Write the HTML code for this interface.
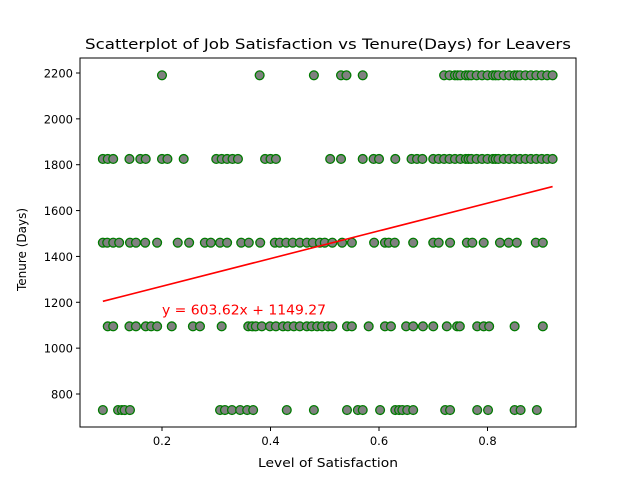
<!DOCTYPE html>
<html><head><meta charset="utf-8"><style>
body{margin:0;background:#fff;}
svg{display:block;font-family:"DejaVu Sans","Liberation Sans",sans-serif;}
</style></head><body>
<svg id="chart" width="640" height="480" viewBox="0 0 640 480"></svg>
<script>
const tenureLevels = [730, 1095, 1460, 1825, 2190];
const sat2190 = [0.20,0.38,0.48,0.53,0.54,0.57,0.72,0.73,0.74,0.745,0.75,0.76,0.765,0.77,0.78,0.79,0.80,0.81,0.815,0.82,0.83,0.84,0.85,0.855,0.86,0.87,0.88,0.89,0.90,0.91,0.92];
const sat1825 = [0.091,0.10,0.11,0.14,0.16,0.17,0.20,0.21,0.24,0.30,0.31,0.32,0.33,0.34,0.39,0.40,0.41,0.51,0.53,0.57,0.59,0.60,0.63,0.66,0.67,0.68,0.70,0.71,0.72,0.73,0.74,0.75,0.76,0.765,0.77,0.78,0.79,0.80,0.81,0.815,0.82,0.83,0.84,0.85,0.86,0.87,0.88,0.89,0.90,0.91,0.92];
const sat1460 = [0.091,0.099,0.11,0.121,0.141,0.152,0.169,0.191,0.229,0.25,0.279,0.29,0.307,0.32,0.346,0.36,0.381,0.408,0.417,0.429,0.441,0.454,0.467,0.478,0.491,0.50,0.514,0.532,0.55,0.591,0.611,0.618,0.629,0.663,0.70,0.71,0.731,0.762,0.772,0.793,0.823,0.839,0.854,0.889,0.902];
const sat1095 = [0.10,0.11,0.14,0.152,0.17,0.18,0.191,0.218,0.257,0.27,0.31,0.359,0.366,0.373,0.384,0.399,0.41,0.423,0.432,0.443,0.454,0.467,0.476,0.486,0.495,0.506,0.514,0.541,0.55,0.581,0.611,0.622,0.65,0.663,0.681,0.70,0.725,0.744,0.749,0.781,0.793,0.803,0.85,0.902];
const sat730 = [0.091,0.119,0.126,0.131,0.141,0.307,0.316,0.329,0.344,0.357,0.368,0.43,0.48,0.541,0.561,0.57,0.602,0.63,0.637,0.643,0.652,0.663,0.722,0.731,0.781,0.801,0.85,0.861,0.891];
const xTicks = [0.2,0.4,0.6,0.8];
const yTicks = [800,1000,1200,1400,1600,1800,2000,2200];
const slope = 603.62, intercept = 1149.27, fitX = [0.091, 0.92];

const NS="http://www.w3.org/2000/svg";
const svg=document.getElementById('chart');
const L=80,R=576,T=58,B=427;
const xS=v=>53.5+v*542.5;
const yS=v=>394-(v-800)*0.22929;
function mk(tag,attrs,parent){const e=document.createElementNS(NS,tag);for(const k in attrs)e.setAttribute(k,attrs[k]);(parent||svg).appendChild(e);return e;}

const pts=mk('g',{});


const rows=[[730,sat730],[1095,sat1095],[1460,sat1460],[1825,sat1825],[2190,sat2190]];
rows.forEach(([t,arr])=>{arr.forEach(s=>{
  const c=mk('circle',{cx:xS(s),cy:yS(t),r:4.4,fill:'#808080',stroke:'#007a00','stroke-width':1.3},pts);
  
  
});});

const fl=mk('line',{x1:xS(fitX[0]),y1:yS(slope*fitX[0]+intercept),x2:xS(fitX[1]),y2:yS(slope*fitX[1]+intercept),stroke:'#ff0000','stroke-width':1.6});


const eq=mk('text',{x:xS(0.2),y:yS(1150)+1,fill:'#ff0000','font-size':13,textLength:164,lengthAdjust:'spacingAndGlyphs'});
eq.textContent='y = 603.62x + 1149.27';



const frame=mk('rect',{x:L,y:T,width:R-L,height:B-T,fill:'none',stroke:'#000','stroke-width':1});



xTicks.forEach(v=>{
  const x=xS(v);
  const tk=mk('line',{x1:x,y1:B,x2:x,y2:B+4,stroke:'#000'});
  
  
  const t=mk('text',{x:x,y:B+18,'text-anchor':'middle','font-size':11.5});
  t.textContent=String(v);
  
  
});
yTicks.forEach(v=>{
  const y=yS(v);
  const tk=mk('line',{x1:L-4,y1:y,x2:L,y2:y,stroke:'#000'});
  
  
  const t=mk('text',{x:L-7,y:y+4.5,'text-anchor':'end','font-size':11.5});
  t.textContent=String(v);
  
  
});
const ttl=mk('text',{x:85,y:49,'font-size':14.5,textLength:486,lengthAdjust:'spacingAndGlyphs'});
ttl.textContent='Scatterplot of Job Satisfaction vs Tenure(Days) for Leavers';


const xl=mk('text',{x:258,y:467,'font-size':12.5,textLength:140,lengthAdjust:'spacingAndGlyphs'});
xl.textContent='Level of Satisfaction';


const yl=mk('text',{x:0,y:0,'font-size':12.5,textLength:83,lengthAdjust:'spacingAndGlyphs',transform:'translate(26 291) rotate(-90)'});
yl.textContent='Tenure (Days)';


</script>
</body></html>
